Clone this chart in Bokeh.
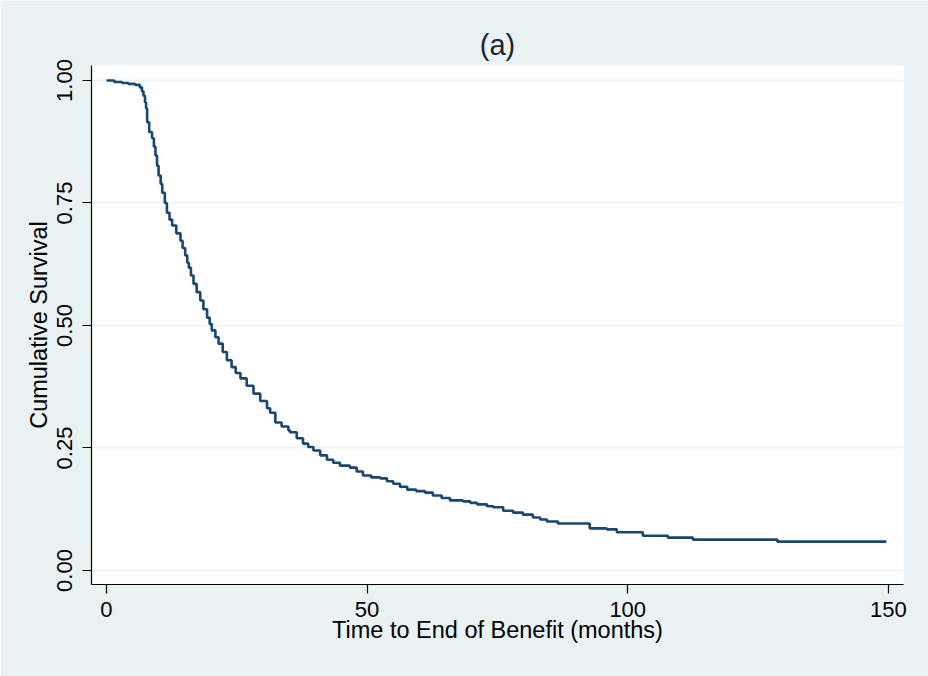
from bokeh.plotting import figure
from bokeh.models import FixedTicker, PrintfTickFormatter, Range1d
from bokeh.embed import file_html
from bokeh.resources import INLINE

# Kaplan-Meier estimate (step function)
time_months = [0, 1.5, 3, 4.2, 5.5, 6.4, 6.8, 7.1, 7.4, 7.6, 7.8, 8.2, 8.75, 9.1, 9.4, 9.7,
               10.0, 10.4, 10.7, 11.2, 11.6, 12.1, 12.6, 13.4, 14.2, 14.6, 15.1, 15.5, 15.8,
               16.2, 16.7, 17.3, 18.0, 18.6, 19.3, 19.8, 20.2, 20.9, 21.5, 22.3, 23.1, 24.0,
               24.8, 25.7, 26.9, 28.2, 29.5, 30.8, 31.4, 32.4, 33.6, 34.9, 35.2, 36.5, 37.7,
               38.7, 39.7, 41.0, 42.3, 43.5, 44.8, 46.7, 48.0, 49.2, 50.8, 52.5, 53.8, 55.0,
               56.3, 57.7, 59.4, 61.1, 62.6, 64.3, 65.9, 68.4, 69.8, 71.1, 73.0, 74.2, 76.1,
               78.0, 79.9, 81.8, 83.2, 84.5, 86.6, 92.7, 96.0, 97.9, 102.9, 107.7, 112.5,
               128.7, 149.6]
survival = [1.0, 0.997, 0.995, 0.993, 0.991, 0.986, 0.978, 0.969, 0.955, 0.943, 0.915, 0.895,
            0.882, 0.865, 0.847, 0.826, 0.806, 0.789, 0.771, 0.75, 0.730, 0.716, 0.704, 0.688,
            0.673, 0.658, 0.643, 0.628, 0.618, 0.602, 0.585, 0.568, 0.551, 0.533, 0.516, 0.503,
            0.490, 0.476, 0.463, 0.446, 0.429, 0.415, 0.403, 0.392, 0.377, 0.361, 0.346, 0.331,
            0.322, 0.302, 0.294, 0.286, 0.282, 0.270, 0.259, 0.252, 0.245, 0.235, 0.226, 0.220,
            0.214, 0.210, 0.202, 0.194, 0.190, 0.188, 0.182, 0.177, 0.171, 0.165, 0.162, 0.159,
            0.153, 0.148, 0.143, 0.141, 0.138, 0.135, 0.131, 0.129, 0.122, 0.118, 0.114, 0.108,
            0.104, 0.100, 0.096, 0.086, 0.084, 0.078, 0.071, 0.067, 0.063, 0.059, 0.059]

x_ticks = [0, 50, 100, 150]
y_ticks = [0.0, 0.25, 0.5, 0.75, 1.0]

BG = "#EAF2F3"
LINE = "#1A476F"
FONT = "Liberation Sans"

p = figure(width=928, height=676, output_backend="svg", toolbar_location=None,
           x_range=Range1d(-2.87, 152.9), y_range=Range1d(-0.0286, 1.0306),
           min_border_left=91, min_border_right=25, min_border_top=65, min_border_bottom=92,
           title="(a)")

p.border_fill_color = BG
p.background_fill_color = "white"
p.outline_line_color = None

p.title.align = "center"
p.title.text_font = FONT
p.title.text_font_size = "29px"
p.title.text_font_style = "normal"
p.title.text_color = "#1c2433"

p.step(time_months, survival, mode="after", line_color=LINE, line_width=2.6)

for ax in (p.xaxis[0], p.yaxis[0]):
    ax.axis_line_color = "black"
    ax.axis_line_width = 1.2
    ax.major_tick_line_color = "black"
    ax.major_tick_line_width = 1.2
    ax.major_tick_in = 0
    ax.major_tick_out = 9
    ax.minor_tick_line_color = None
    ax.major_label_text_font = FONT
    ax.major_label_text_font_size = "22px"
    ax.major_label_text_color = "black"
    ax.axis_label_text_font = FONT
    ax.axis_label_text_font_size = "23.5px"
    ax.axis_label_text_font_style = "normal"
    ax.axis_label_text_color = "black"

p.xaxis.ticker = FixedTicker(ticks=x_ticks)
p.xaxis.axis_label = "Time to End of Benefit (months)"
p.xaxis.major_label_standoff = 8
p.xaxis.axis_label_standoff = -3

p.yaxis.ticker = FixedTicker(ticks=y_ticks)
p.yaxis.formatter = PrintfTickFormatter(format="%.2f")
p.yaxis.major_label_orientation = "vertical"
p.yaxis.major_label_standoff = 10
p.yaxis.axis_label = "Cumulative Survival"
p.yaxis.axis_label_standoff = 3

p.xgrid.grid_line_color = None
p.ygrid.grid_line_color = BG
p.ygrid.grid_line_width = 1.5

open("out.html", "w").write(file_html(p, INLINE))
